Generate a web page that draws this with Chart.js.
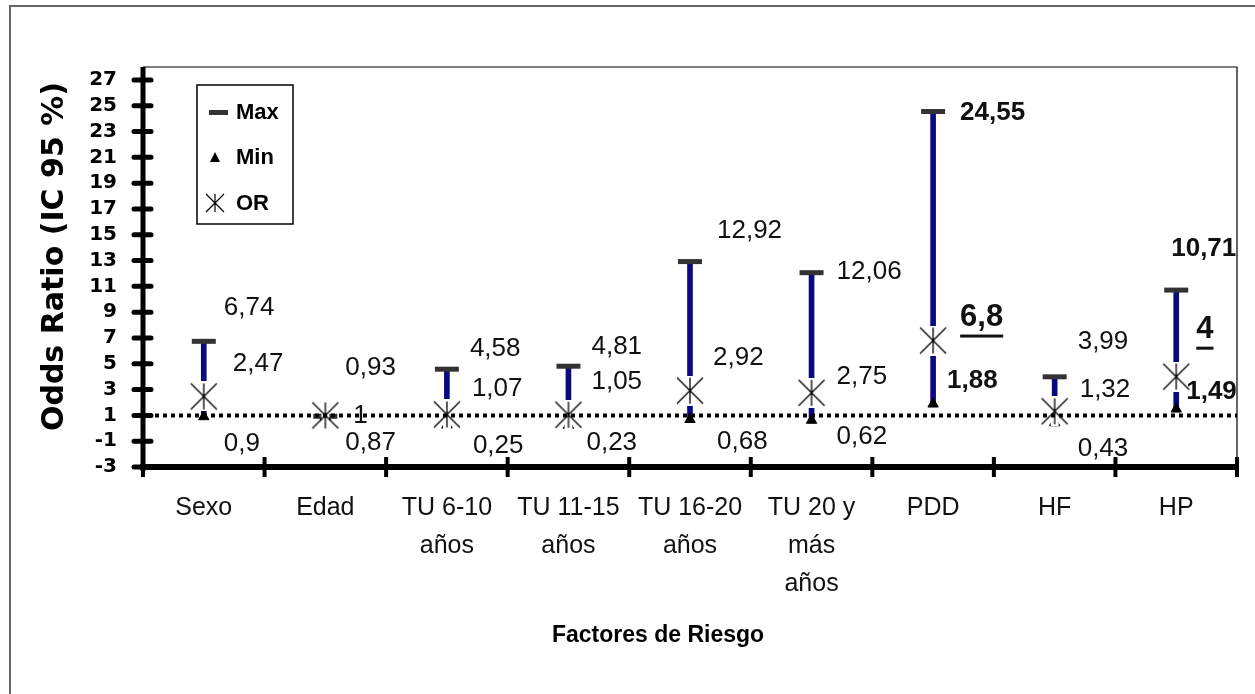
<!DOCTYPE html>
<html>
<head>
<meta charset="utf-8">
<script src="https://cdn.jsdelivr.net/npm/chart.js@4.4.0/dist/chart.umd.min.js"></script>
<style>
html,body{margin:0;padding:0;background:#fff;}
#wrap{position:relative;width:1255px;height:694px;}
</style>
</head>
<body>
<div id="wrap"><canvas id="c" width="1255" height="694"></canvas></div>
<script>
// ---------- DATA ----------
const categories = [["Sexo"], ["Edad"], ["TU 6-10", "años"], ["TU 11-15", "años"], ["TU 16-20", "años"], ["TU 20 y", "más", "años"], ["PDD"], ["HF"], ["HP"]];
const maxValues = [6.74, 0.93, 4.58, 4.81, 12.92, 12.06, 24.55, 3.99, 10.71];
const minValues = [0.9, 0.87, 0.25, 0.23, 0.68, 0.62, 1.88, 0.43, 1.49];
const orValues  = [2.47, 1, 1.07, 1.05, 2.92, 2.75, 6.8, 1.32, 4];
const yTickValues = [-3, -1, 1, 3, 5, 7, 9, 11, 13, 15, 17, 19, 21, 23, 25, 27];
const yAxisMin = -3;
const yAxisMax = 28;
const referenceValue = 1;
const legendNames = ["Max", "Min", "OR"];
const yTitle = "Odds Ratio (IC 95 %)";
const xTitle = "Factores de Riesgo";

// ---------- STYLE (label placement offsets in px, relative to point) ----------
const labelOffsets = {
  max: [[20,-33],[20,-48],[23,-20],[23,-19],[27,-31],[25,-1],[27,1],[23,-35],[-5,-41]],
  or:  [[29,-33],[28,0],[25,-26],[23,-33],[23,-33],[25,-16],[27,-23],[25,-21],[20,-47]],
  min: [[20,27],[20,26],[26,21],[18,18],[27,22],[25,17],[14,-23],[23,26],[10,-17]]
};
const emphasisCategories = ["PDD", "HP"];

const NAVY = '#0a0a80';
const CAP = '#333333';
const FONT = "'Liberation Sans', Arial, sans-serif";

function fmt(v) { return String(v).replace('.', ','); }

// OR marker (X with vertical stroke, white strip behind)
function makeStar(arm, lw, strip) {
  const s = arm * 2 + 4;
  const c = document.createElement('canvas');
  c.width = s; c.height = s;
  const g = c.getContext('2d');
  const m = s / 2;
  if (strip) {
    g.fillStyle = '#fff';
    g.fillRect(m - 4, 0, 8, s);
  }
  g.strokeStyle = '#000';
  g.lineWidth = lw;
  g.beginPath();
  g.moveTo(m - arm, m - arm); g.lineTo(m + arm, m + arm);
  g.moveTo(m + arm, m - arm); g.lineTo(m - arm, m + arm);
  g.moveTo(m, m - arm); g.lineTo(m, m + arm);
  g.stroke();
  return c;
}
const starImg = makeStar(13, 1.3, true);
const starLegend = makeStar(9, 1.2, false);

const framePlugin = {
  id: 'frame',
  beforeDraw(chart) {
    const ctx = chart.ctx;
    ctx.save();
    ctx.fillStyle = '#fff';
    ctx.fillRect(0, 0, chart.width, chart.height);
    ctx.strokeStyle = '#666';
    ctx.lineWidth = 2;
    ctx.strokeRect(10, 6, 1400, 1000);
    ctx.restore();
  },
  afterDatasetsDraw(chart) {
    const ctx = chart.ctx, a = chart.chartArea;
    const ys = chart.scales.y, xs = chart.scales.x;
    ctx.save();
    // reference dotted line
    const yr = ys.getPixelForValue(referenceValue);
    ctx.strokeStyle = '#000';
    ctx.lineWidth = 4;
    ctx.setLineDash([4, 4]);
    ctx.beginPath(); ctx.moveTo(a.left + 4, yr); ctx.lineTo(a.right, yr); ctx.stroke();
    ctx.setLineDash([]);
    // plot border top & right
    ctx.lineWidth = 1.2;
    ctx.beginPath();
    ctx.moveTo(a.left, a.top); ctx.lineTo(a.right, a.top); ctx.lineTo(a.right, a.bottom);
    ctx.stroke();
    // y axis
    ctx.lineWidth = 5;
    ctx.beginPath(); ctx.moveTo(a.left, a.top); ctx.lineTo(a.left, a.bottom + 4); ctx.stroke();
    ctx.lineCap = 'round';
    ctx.lineWidth = 5;
    yTickValues.forEach(v => {
      const p = ys.getPixelForValue(v);
      ctx.beginPath(); ctx.moveTo(a.left - 9, p); ctx.lineTo(a.left + 8, p); ctx.stroke();
    });
    // x axis
    ctx.lineCap = 'butt';
    ctx.lineWidth = 6;
    ctx.beginPath(); ctx.moveTo(a.left - 3, a.bottom); ctx.lineTo(a.right + 2, a.bottom); ctx.stroke();
    ctx.lineWidth = 4;
    for (let i = 0; i < categories.length; i++) {
      const p = xs.getPixelForValue(i + 0.5);
      ctx.beginPath(); ctx.moveTo(p, a.bottom - 10); ctx.lineTo(p, a.bottom + 10); ctx.stroke();
    }
    ctx.beginPath(); ctx.moveTo(a.left, a.bottom - 10); ctx.lineTo(a.left, a.bottom + 10); ctx.stroke();

    // data labels
    ctx.fillStyle = '#111';
    ctx.textAlign = 'left';
    ctx.textBaseline = 'middle';
    const groups = [['max', maxValues], ['or', orValues], ['min', minValues]];
    categories.forEach((cat, i) => {
      const name = cat.join(' ');
      const emph = emphasisCategories.includes(name);
      const cx = xs.getPixelForValue(i);
      groups.forEach(([key, arr]) => {
        const [dx, dy] = labelOffsets[key][i];
        const tx = cx + dx, ty = ys.getPixelForValue(arr[i]) + dy;
        const txt = fmt(arr[i]);
        if (emph && key === 'or') {
          ctx.font = "bold 31px " + FONT;
          ctx.fillText(txt, tx, ty);
          const w = ctx.measureText(txt).width;
          ctx.fillRect(tx, ty + 17, w, 3);
        } else if (emph) {
          ctx.font = "bold 26px " + FONT;
          ctx.fillText(txt, tx, ty);
        } else {
          ctx.font = "26px " + FONT;
          ctx.fillText(txt, tx, ty);
        }
      });
    });

    // legend
    const lx = a.left + 54, ly = a.top + 18, lw = 96, lh = 139;
    ctx.strokeStyle = '#000';
    ctx.lineWidth = 1.5;
    ctx.strokeRect(lx, ly, lw, lh);
    ctx.font = "bold 22px " + FONT;
    const rows = [27, 72, 118];
    // Max sample
    ctx.fillStyle = CAP;
    ctx.fillRect(lx + 12, ly + rows[0] - 2, 19, 5);
    // Min sample
    ctx.fillStyle = '#000';
    ctx.beginPath();
    ctx.moveTo(lx + 18, ly + rows[1] - 5);
    ctx.lineTo(lx + 23, ly + rows[1] + 5);
    ctx.lineTo(lx + 13, ly + rows[1] + 5);
    ctx.closePath(); ctx.fill();
    // OR sample
    ctx.drawImage(starLegend, lx + 18 - starLegend.width / 2, ly + rows[2] - starLegend.height / 2);
    legendNames.forEach((n, k) => ctx.fillText(n, lx + 39, ly + rows[k] + 1));
    ctx.restore();
  }
};

new Chart(document.getElementById('c'), {
  type: 'bar',
  data: {
    labels: categories,
    datasets: [
      {
        label: 'Rango', type: 'bar',
        data: minValues.map((m, i) => [m, maxValues[i]]),
        backgroundColor: NAVY, barThickness: 5, order: 4
      },
      {
        label: legendNames[0], type: 'line', data: maxValues, showLine: false,
        pointStyle: 'line', pointRadius: 12, pointBorderWidth: 5,
        pointBorderColor: CAP, pointBackgroundColor: CAP, order: 3
      },
      {
        label: legendNames[1], type: 'line', data: minValues, showLine: false,
        pointStyle: 'triangle', pointRadius: 6, pointBorderWidth: 1,
        pointBorderColor: '#000', pointBackgroundColor: '#000', order: 2
      },
      {
        label: legendNames[2], type: 'line', data: orValues, showLine: false,
        pointStyle: starImg, pointRadius: 14, order: 1
      }
    ]
  },
  options: {
    responsive: false,
    animation: false,
    events: [],
    layout: { padding: { top: 67, right: 18, left: 0, bottom: 0 } },
    plugins: { legend: { display: false }, tooltip: { enabled: false } },
    scales: {
      x: {
        offset: true,
        grid: { display: false, drawTicks: false },
        border: { display: false },
        ticks: {
          font: { family: FONT, size: 25, lineHeight: 1.52 },
          color: '#111', padding: 22, maxRotation: 0, autoSkip: false
        },
        title: {
          display: true, text: xTitle + "          ", color: '#000',
          font: { family: FONT, weight: 'bold', size: 23 },
          padding: { top: 0, bottom: 45 }
        },
        afterFit: s => { s.height = 227; }
      },
      y: {
        min: yAxisMin, max: yAxisMax,
        afterBuildTicks: s => { s.ticks = yTickValues.map(v => ({ value: v })); },
        grid: { display: false, drawTicks: false },
        border: { display: false },
        ticks: {
          font: { family: "'DejaVu Sans', sans-serif", weight: 'bold', size: 20 },
          color: '#000', padding: 26, autoSkip: false
        },
        title: {
          display: true, text: "  " + yTitle, color: '#000',
          font: { family: "'DejaVu Sans', sans-serif", weight: 'bold', size: 30 },
          padding: { top: 37, bottom: 0 }
        },
        afterFit: s => { s.width = 143; }
      }
    }
  },
  plugins: [framePlugin]
});
</script>
</body>
</html>
